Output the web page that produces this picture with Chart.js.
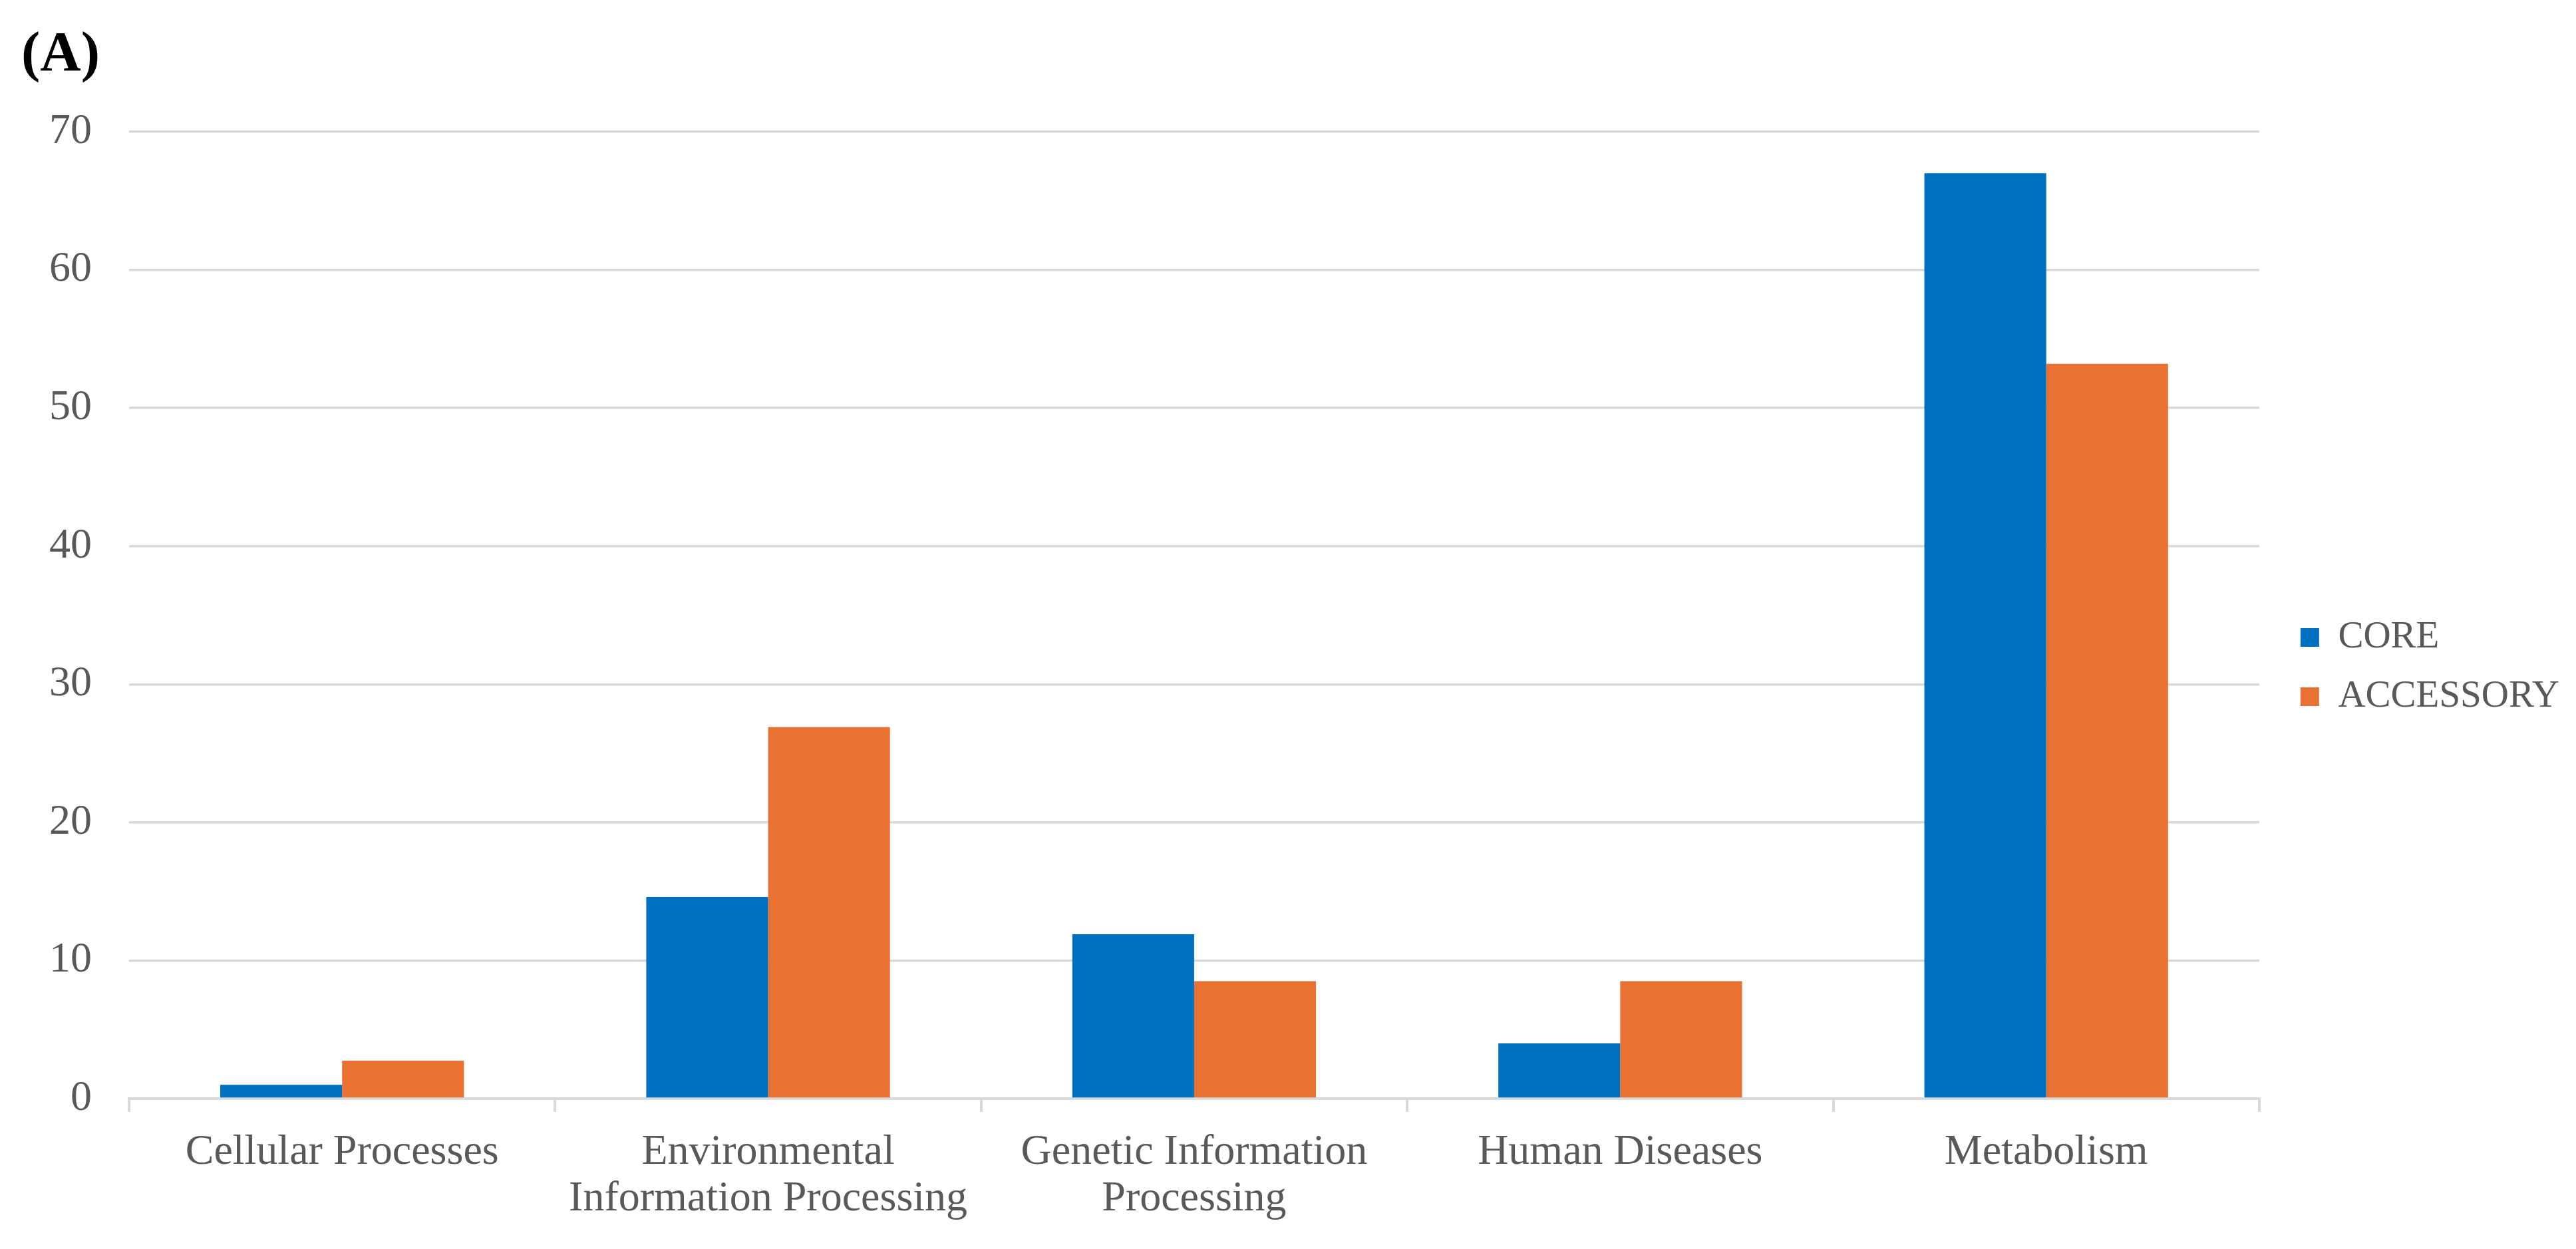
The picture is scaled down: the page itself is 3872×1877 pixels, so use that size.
<!DOCTYPE html>
<html>
<head>
<meta charset="utf-8">
<script src="https://cdn.jsdelivr.net/npm/chart.js@4/dist/chart.umd.min.js"></script>
<style>
  html, body { margin: 0; padding: 0; background: #fff; }
  canvas { display: block; }
</style>
</head>
<body>
<canvas id="myChart" width="3872" height="1877" style="width:3872px;height:1877px"></canvas>
<script>
// categories (multi-line ones wrap like the original)
const categories = [
  "Cellular Processes",
  ["Environmental", "Information Processing"],
  ["Genetic Information", "Processing"],
  "Human Diseases",
  "Metabolism",
];
const coreValues = [1.0, 14.6, 11.9, 4.0, 67.0];
const accessoryValues = [2.75, 26.9, 8.5, 8.5, 53.2];
const yTicks = [0, 10, 20, 30, 40, 50, 60, 70];

const serif = "'Liberation Serif', 'Times New Roman', serif";
const gray = "#595959";
const lineGray = "#d9d9d9";

// push the legend a bit right and down, like the excel original
const legendNudge = {
  id: "legendNudge",
  afterLayout(chart) {
    const l = chart.legend;
    if (!l) return;
    l.left += 30;
    l.right += 30;
    l.top += 64;
    l.bottom += 64;
  },
};

const ctx = document.getElementById("myChart").getContext("2d");

const chart = new Chart(ctx, {
  type: "bar",
  data: {
    labels: categories,
    datasets: [
      {
        label: "CORE",
        data: coreValues,
        backgroundColor: "#0070C0",
        borderWidth: 0,
      },
      {
        label: "ACCESSORY",
        data: accessoryValues,
        backgroundColor: "#E97132",
        borderWidth: 0,
      },
    ],
  },
  options: {
    responsive: false,
    animation: false,
    devicePixelRatio: 1,
    layout: {
      padding: { left: 32, right: 45, top: 0, bottom: 0 },
    },
    datasets: {
      bar: {
        barPercentage: 1,
        categoryPercentage: 0.572,
      },
    },
    plugins: {
      title: {
        display: true,
        text: "(A)",
        align: "start",
        color: "#000",
        font: { family: serif, size: 85, weight: "bold", lineHeight: 1.2 },
        padding: { top: 33, bottom: 63 },
      },
      legend: {
        position: "right",
        labels: {
          color: gray,
          boxWidth: 28,
          boxHeight: 28,
          padding: 32,
          font: { family: serif, size: 57 },
        },
      },
      tooltip: { enabled: false },
    },
    scales: {
      x: {
        grid: {
          display: true,
          drawOnChartArea: false,
          offset: true,
          tickLength: 20,
          color: lineGray,
          lineWidth: 4,
        },
        border: { display: true, color: lineGray, width: 4 },
        ticks: {
          color: gray,
          maxRotation: 0,
          minRotation: 0,
          autoSkip: false,
          padding: 26,
          font: { family: serif, size: 64, lineHeight: 1.1 },
        },
        afterFit: (scale) => {
          scale.height = 226;
        },
      },
      y: {
        min: 0,
        max: 70,
        afterBuildTicks: (scale) => {
          scale.ticks = yTicks.map((v) => ({ value: v }));
        },
        grid: {
          color: lineGray,
          lineWidth: 3.5,
          drawTicks: false,
        },
        border: { display: false },
        ticks: {
          color: gray,
          padding: 56,
          font: { family: serif, size: 64 },
        },
        afterFit: (scale) => {
          scale.width = 162;
        },
      },
    },
  },
  plugins: [legendNudge],
});
</script>
</body>
</html>
